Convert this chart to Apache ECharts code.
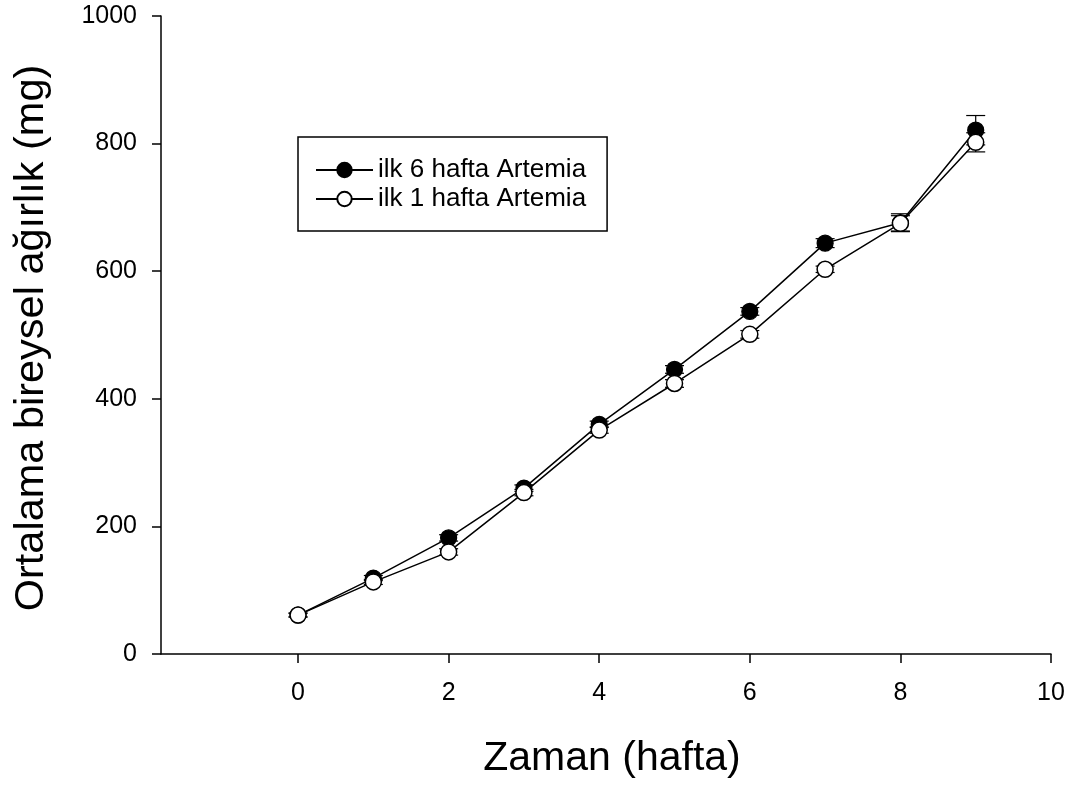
<!DOCTYPE html>
<html>
<head>
<meta charset="utf-8">
<script src="https://cdn.jsdelivr.net/npm/echarts@6/dist/echarts.min.js"></script>
<style>
html,body{margin:0;padding:0;background:#fff;}
#chart{width:1081px;height:787px;}
</style>
</head>
<body>
<div id="chart"></div>
<script>
const weeks = [0, 1, 2, 3, 4, 5, 6, 7, 8, 9];
const seriesNames = ['ilk 6 hafta Artemia', 'ilk 1 hafta Artemia'];
const filledMean = [61, 119, 182, 260, 360, 446, 537, 644, 676, 821];
const filledErr  = [3, 4, 5, 5, 5, 6, 6, 7, 14, 23];
const openMean   = [61, 113, 160, 253, 351, 424, 501, 603, 675, 802];
const openErr    = [3, 4, 5, 5, 5, 6, 6, 5, 12, 15];
const xTicks = [0, 2, 4, 6, 8, 10];
const yTicks = [0, 200, 400, 600, 800, 1000];

const FONT = 'Liberation Sans, Arial, sans-serif';

function pairs(xs, ys) { return xs.map((x, i) => [x, ys[i]]); }
function triples(xs, ys, es) { return xs.map((x, i) => [x, ys[i], es[i]]); }

function errRender(params, api) {
  const x = api.value(0), y = api.value(1), e = api.value(2);
  const t = api.coord([x, y + e]);
  const b = api.coord([x, y - e]);
  const hw = 9.5;
  const st = { stroke: '#000', lineWidth: 1.2 };
  return {
    type: 'group',
    children: [
      { type: 'line', shape: { x1: t[0], y1: t[1], x2: b[0], y2: b[1] }, style: st },
      { type: 'line', shape: { x1: t[0] - hw, y1: t[1], x2: t[0] + hw, y2: t[1] }, style: st },
      { type: 'line', shape: { x1: b[0] - hw, y1: b[1], x2: b[0] + hw, y2: b[1] }, style: st }
    ]
  };
}

const chart = echarts.init(document.getElementById('chart'), null, { renderer: 'canvas' });
chart.setOption({
  animation: false,
  backgroundColor: '#fff',
  textStyle: { fontFamily: FONT, color: '#000' },
  grid: { left: 161, right: 30, top: 16, bottom: 133, containLabel: false },
  legend: {
    data: seriesNames,
    orient: 'vertical',
    left: 298,
    top: 137,
    padding: [20, 21, 19, 17],
    itemWidth: 57,
    itemHeight: 18,
    itemGap: 3,
    borderColor: '#000',
    borderWidth: 1.5,
    borderRadius: 0,
    textStyle: { fontFamily: FONT, fontSize: 26, color: '#000' },
    selectedMode: false
  },
  xAxis: {
    type: 'value',
    min: -1.82,
    max: 10,
    name: 'Zaman (hafta)',
    nameLocation: 'middle',
    nameGap: 84,
    nameTextStyle: { fontFamily: FONT, fontSize: 41, color: '#000', padding: [0, 0, 0, 12] },
    axisLine: { show: true, onZero: false, lineStyle: { color: '#000', width: 1.5 } },
    axisTick: { show: true, inside: false, length: 9, lineStyle: { color: '#000', width: 1.5 }, customValues: xTicks },
    axisLabel: { fontFamily: FONT, fontSize: 25, color: '#000', margin: 27, customValues: xTicks, formatter: v => String(v) },
    splitLine: { show: false }
  },
  yAxis: {
    type: 'value',
    min: 0,
    max: 1000,
    interval: 200,
    name: 'Ortalama bireysel ağırlık (mg)',
    nameLocation: 'middle',
    nameGap: 108,
    nameTextStyle: { fontFamily: FONT, fontSize: 41.5, color: '#000', padding: [0, 6, 0, 0] },
    axisLine: { show: true, onZero: false, lineStyle: { color: '#000', width: 1.5 } },
    axisTick: { show: true, inside: false, length: 9, lineStyle: { color: '#000', width: 1.5 }, customValues: yTicks },
    axisLabel: { fontFamily: FONT, fontSize: 25, color: '#000', margin: 24, customValues: yTicks, formatter: v => String(v) },
    splitLine: { show: false }
  },
  series: [
    {
      type: 'custom', name: 'err6', renderItem: errRender, z: 1,
      encode: { x: 0, y: 1 }, data: triples(weeks, filledMean, filledErr), silent: true
    },
    {
      type: 'custom', name: 'err1', renderItem: errRender, z: 1,
      encode: { x: 0, y: 1 }, data: triples(weeks, openMean, openErr), silent: true
    },
    {
      type: 'line', name: seriesNames[0], z: 3,
      data: pairs(weeks, filledMean),
      symbol: 'circle', symbolSize: 16, showAllSymbol: true,
      lineStyle: { color: '#000', width: 1.5 },
      itemStyle: { color: '#000', borderColor: '#000', borderWidth: 1.2 }
    },
    {
      type: 'line', name: seriesNames[1], z: 4,
      data: pairs(weeks, openMean),
      symbol: 'circle', symbolSize: 16, showAllSymbol: true,
      lineStyle: { color: '#000', width: 1.5 },
      itemStyle: { color: '#fff', borderColor: '#000', borderWidth: 1.5 }
    }
  ]
});
</script>
</body>
</html>
